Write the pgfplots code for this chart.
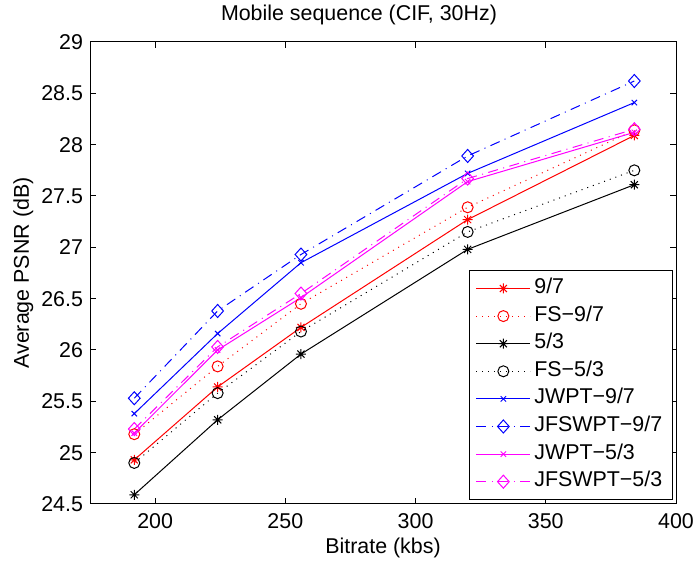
\documentclass[border=0pt]{standalone}
\usepackage{fontspec}
\setmainfont{Liberation Sans}
\usepackage{pgfplots}
\pgfplotsset{compat=1.18}
\usetikzlibrary{calc,plotmarks}
\pgfdeclareplotmark{mstar}{%
 \pgfpathmoveto{\pgfqpoint{0pt}{\pgfplotmarksize}}\pgfpathlineto{\pgfqpoint{0pt}{-\pgfplotmarksize}}%
 \pgfpathmoveto{\pgfqpoint{\pgfplotmarksize}{0pt}}\pgfpathlineto{\pgfqpoint{-\pgfplotmarksize}{0pt}}%
 \pgfpathmoveto{\pgfqpoint{.707\pgfplotmarksize}{.707\pgfplotmarksize}}\pgfpathlineto{\pgfqpoint{-.707\pgfplotmarksize}{-.707\pgfplotmarksize}}%
 \pgfpathmoveto{\pgfqpoint{.707\pgfplotmarksize}{-.707\pgfplotmarksize}}\pgfpathlineto{\pgfqpoint{-.707\pgfplotmarksize}{.707\pgfplotmarksize}}%
 \pgfusepathqstroke}
\definecolor{mred}{rgb}{1,0,0}
\definecolor{mblue}{rgb}{0,0,1}
\definecolor{mmag}{rgb}{1,0,1}
\newcommand{\ff}{\fontsize{10.7}{12.5}\selectfont}
\begin{document}
\begin{tikzpicture}
\begin{axis}[
  scale only axis,
  width=293pt, height=231pt,
  xmin=175, xmax=400, ymin=24.5, ymax=29,
  xtick={200,250,300,350,400},
  ytick={24.5,25,25.5,26,26.5,27,27.5,28,28.5,29},
  yticklabels={24.5,25,25.5,26,26.5,27,27.5,28,28.5,29},
  tick align=inside,
  major tick length=2.8pt,
  tick style={black, line width=0.5pt},
  axis line style={line width=0.5pt},
  /pgf/number format/assume math mode=true,
  tick label style={font=\ff},
  xticklabel style={yshift=-1.4pt},
  label style={font=\ff},
  every axis title shift=0pt,
  title style={font=\ff, at={(axis description cs:0.459,1.0455)}, anchor=base},
  title={Mobile sequence (CIF, 30Hz)},
  xlabel={Bitrate (kbs)},
  xlabel style={at={(axis description cs:0.5,-0.1082)}, anchor=base},
  ylabel={Average PSNR (dB)},
  ylabel style={at={(axis description cs:-0.1041,0.5)}, anchor=base, rotate=0},
  legend style={at={(axis description cs:0.99488,0.00866)}, anchor=south east,
    draw=black, line width=0.5pt, font=\ff,
    inner xsep=3.4pt, inner ysep=3.9pt, row sep=3.8pt,
    nodes={inner xsep=1.75pt, inner ysep=0pt, text height=7.5pt, text depth=2.5pt}},
  legend cell align=left,
  legend image code/.code={\draw[mark repeat=2,mark phase=2,#1] plot coordinates {(0pt,0pt)(13.5pt,0pt)(27pt,0pt)};},
  every axis plot/.append style={line width=0.5pt},
]
\addplot[mred, mark=mstar, mark size=2.5pt, mark options={solid}] coordinates {(192,24.93)(224,25.64)(256,26.22)(320,27.27)(384,28.09)};
\addlegendentry{9/7}
\addplot[mred, dash pattern=on 0.5pt off 2.5pt, mark=o, mark size=2.75pt, mark options={solid}] coordinates {(192,25.18)(224,25.84)(256,26.45)(320,27.39)(384,28.14)};
\addlegendentry{FS\textminus9/7}
\addplot[black, mark=mstar, mark size=2.5pt, mark options={solid}] coordinates {(192,24.59)(224,25.32)(256,25.96)(320,26.98)(384,27.61)};
\addlegendentry{5/3}
\addplot[black, dash pattern=on 0.5pt off 2.5pt, mark=o, mark size=2.75pt, mark options={solid}] coordinates {(192,24.90)(224,25.58)(256,26.18)(320,27.15)(384,27.75)};
\addlegendentry{FS\textminus5/3}
\addplot[mblue, mark=x, mark size=1.9pt, mark options={solid}] coordinates {(192,25.38)(224,26.16)(256,26.85)(320,27.72)(384,28.41)};
\addlegendentry{JWPT\textminus9/7}
\addplot[mblue, dash pattern=on 5pt off 2.75pt on 0.5pt off 2.75pt, mark=diamond, mark size=3.25pt, mark options={solid, xscale=1.2}] coordinates {(192,25.53)(224,26.38)(256,26.93)(320,27.89)(384,28.62)};
\addlegendentry{JFSWPT\textminus9/7}
\addplot[mmag, mark=x, mark size=1.9pt, mark options={solid}] coordinates {(192,25.19)(224,26.00)(256,26.51)(320,27.64)(384,28.12)};
\addlegendentry{JWPT\textminus5/3}
\addplot[mmag, dash pattern=on 5pt off 2.75pt on 0.5pt off 2.75pt, mark=diamond, mark size=3.25pt, mark options={solid, xscale=1.2}] coordinates {(192,25.23)(224,26.03)(256,26.55)(320,27.67)(384,28.15)};
\addlegendentry{JFSWPT\textminus5/3}
\end{axis}
\pgfresetboundingbox
\path[use as bounding box] ($(current axis.south west)+(-45pt,-30.5pt)$) rectangle ($(current axis.north east)+(9pt,21pt)$);
\end{tikzpicture}
\end{document}
